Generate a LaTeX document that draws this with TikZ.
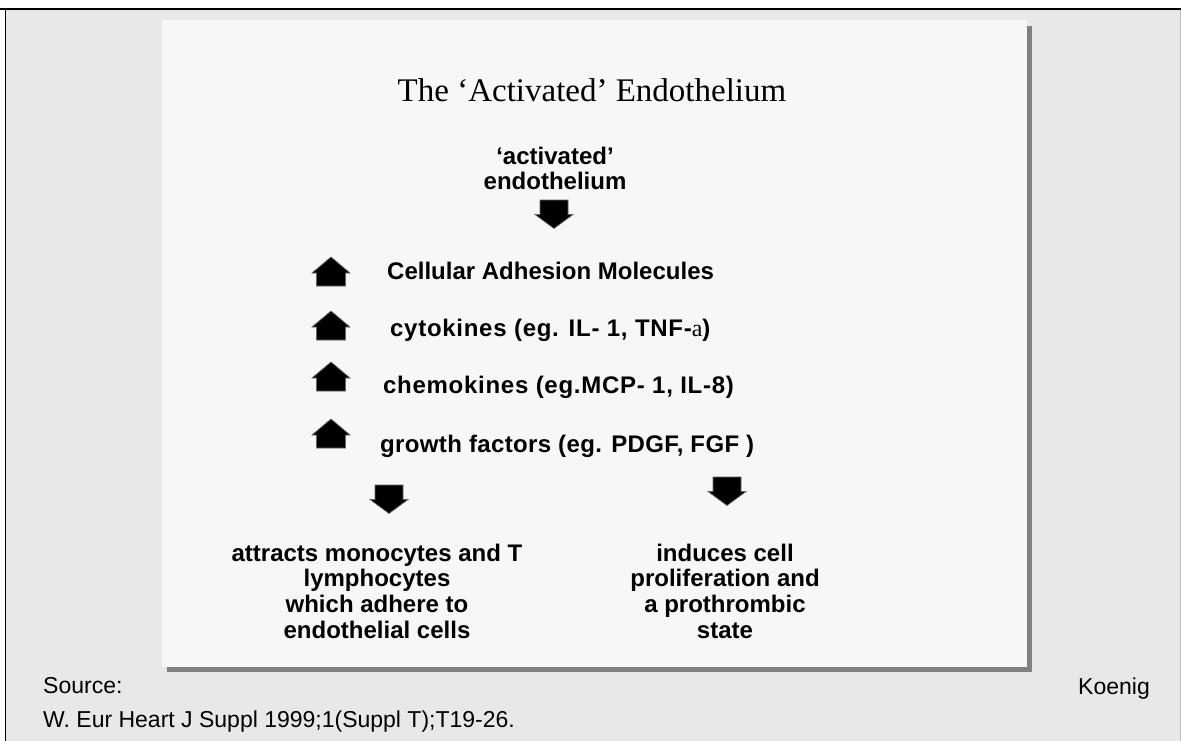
\documentclass[tikz,border=0pt]{standalone}
\usepackage{fontspec}
\setmainfont{Liberation Sans}
\newfontfamily\ttlfont{Liberation Serif}
\newfontfamily\widesans[LetterSpace=3]{Liberation Sans}
\newfontfamily\midsans[LetterSpace=1.5]{Liberation Sans}
\definecolor{bggray}{HTML}{E8E8E8}
\definecolor{slide}{HTML}{F7F7F7}
\definecolor{shadowgray}{HTML}{808080}
\tikzset{
  body/.style={inner sep=0pt, font=\fontsize{24}{25.6}\selectfont\bfseries, align=center},
  srctext/.style={inner sep=0pt, font=\fontsize{23}{27}\selectfont},
  blockarr/.style={fill=black, draw=black!60, line width=0.7pt, line join=miter},
  uparr/.pic={\path[blockarr] (0,0) -- (19,16) -- (14.5,16) -- (14.5,29) -- (-14.5,29) -- (-14.5,16) -- (-19,16) -- cycle;},
  downarr/.pic={\path[blockarr] (-14,0) -- (14,0) -- (14,14.5) -- (19,14.5) -- (0,28.5) -- (-19,14.5) -- (-14,14.5) -- cycle;}
}
\begin{document}
\begin{tikzpicture}[x=1pt,y=-1pt]
\useasboundingbox (0,0) rectangle (1181,741);
\fill[white] (0,0) rectangle (1181,741);
% page background
\fill[bggray] (5,9) rectangle (1181,741);
\draw[black, line width=2pt] (0,9) -- (1181,9);
\draw[black, line width=1.6pt] (5.5,9) -- (5.5,741);
\draw[black!25, line width=1pt] (1180.5,10) -- (1180.5,741);
% slide with shadow
\fill[shadowgray] (167,26) rectangle (1032,672);
\fill[slide] (162,20) rectangle (1027,667);
% title
\node[inner sep=0pt, anchor=base, font=\ttlfont\fontsize{33}{36}\selectfont] (title) at (592,102) {The ‘Activated’ Endothelium};
% activated endothelium
\node[body, anchor=north] (act) at (555,146.8) {‘activated’\\endothelium};
\pic at (554,200) {downarr};
% up arrows and factors
\pic at (331,257) {uparr};
\node[body, anchor=base west] (cam) at (387,279) {Cellular Adhesion Molecules};
\pic at (331,311) {uparr};
\node[body, anchor=base west] (cyt) at (390,336) {\widesans cytokines (eg. IL- 1, TNF-{\ttlfont\mdseries a})};
\pic at (331,362) {uparr};
\node[body, anchor=base west] (chem) at (383,393) {\widesans chemokines (eg.MCP- 1, IL-8)};
\pic at (331,419) {uparr};
\node[body, anchor=base west] (gf) at (380,452) {\midsans growth factors (eg. PDGF, FGF )};
% outcome arrows
\pic at (389,485) {downarr};
\pic at (727,477) {downarr};
\node[body, anchor=north] (left) at (377,543.8) {attracts monocytes and T\\lymphocytes\\which adhere to\\endothelial cells};
\node[body, anchor=north] (right) at (725,543.8) {induces cell\\proliferation and\\a prothrombic\\state};
% source
\node[srctext, anchor=base west] (src) at (43,693) {Source:};
\node[srctext, anchor=base east] (koenig) at (1150,694) {Koenig};
\node[srctext, anchor=base west] (ref) at (43,727) {W. Eur Heart J Suppl 1999;1(Suppl T);T19-26.};
\end{tikzpicture}
\end{document}
